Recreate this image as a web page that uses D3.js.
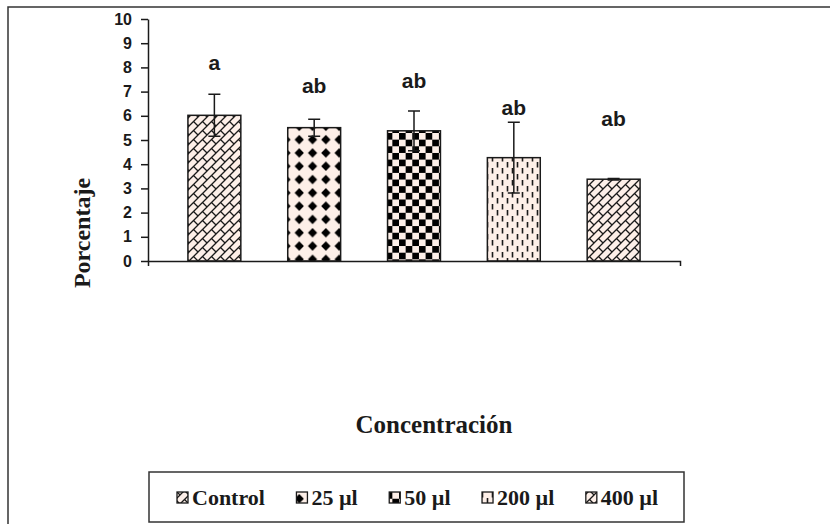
<!DOCTYPE html>
<html>
<head>
<meta charset="utf-8">
<script src="https://cdn.jsdelivr.net/npm/d3@7"></script>
<style>
  html, body { margin: 0; padding: 0; background: #fff; }
  svg { display: block; }
</style>
</head>
<body>
<svg id="chart" width="830" height="524"></svg>
<script>
// ---- data ----
const categories = ["Control", "25 µl", "50 µl", "200 µl", "400 µl"];
const means      = [6.02, 5.51, 5.38, 4.27, 3.38];
const errors     = [0.87, 0.35, 0.82, 1.46, 0.03];
const letters    = ["a", "ab", "ab", "ab", "ab"];
const letterPos  = [7.89, 6.94, 7.15, 6.03, 5.59];
const yTicks     = [0, 1, 2, 3, 4, 5, 6, 7, 8, 9, 10];
const patterns   = ["brick", "diamond", "checker", "dash", "brick"];
const yTitle = "Porcentaje";
const xTitle = "Concentración";

const svg = d3.select("#chart");
const ink = "#1a1a1a";
const bg = "#fdefe8";

// ---- patterns ----
const defs = svg.append("defs");
function addPattern(id, w, h, build) {
  const p = defs.append("pattern").attr("id", id)
    .attr("patternUnits", "userSpaceOnUse").attr("width", w).attr("height", h);
  p.append("rect").attr("width", w).attr("height", h).attr("fill", bg);
  build(p);
}
addPattern("brick", 9, 9, p => {
  p.append("path")
    .attr("d", "M-1,10L10,-1 M4.5,4.5L9,9 M-1,1L1,-1 M8,10L10,8")
    .attr("stroke", ink).attr("stroke-width", 1.3).attr("fill", "none");
});
addPattern("diamond", 13.3, 13.3, p => {
  p.append("path").attr("d", "M6.65,2L11.3,6.65L6.65,11.3L2,6.65Z").attr("fill", "#000");
});
addPattern("checker", 13.3, 13.3, p => {
  p.append("rect").attr("x", 0).attr("y", 0).attr("width", 6.65).attr("height", 6.65).attr("fill", "#000");
  p.append("rect").attr("x", 6.65).attr("y", 6.65).attr("width", 6.65).attr("height", 6.65).attr("fill", "#000");
});
addPattern("dash", 10, 12, p => {
  p.append("path").attr("d", "M2.5,0V5.5 M7.5,6V11.5")
    .attr("stroke", ink).attr("stroke-width", 1.6).attr("fill", "none");
});

// ---- frame ----
svg.append("path").attr("d", "M8,524V7H830").attr("fill", "none")
  .attr("stroke", "#333").attr("stroke-width", 1.5);

// ---- scales ----
const x = d3.scaleBand().domain(categories).range([148, 680])
  .paddingInner(0.47).paddingOuter(0.4);
const y = d3.scaleLinear().domain([0, 10]).range([261, 19]);

// ---- axes ----
const yAxis = svg.append("g").attr("transform", "translate(148,0)")
  .call(d3.axisLeft(y).tickValues(yTicks).tickSize(7).tickPadding(9).tickSizeOuter(0));
yAxis.selectAll("path, line").attr("stroke", ink).attr("stroke-width", 1.5);
yAxis.selectAll("text").attr("fill", ink)
  .style("font-family", "'Liberation Sans', Arial, sans-serif")
  .style("font-weight", "bold").style("font-size", "16px");

// ---- bars ----
const data = categories.map((c, i) => ({c, m: means[i], e: errors[i], l: letters[i], lp: letterPos[i], p: patterns[i]}));
svg.append("g").selectAll("rect").data(data).join("rect")
  .attr("x", d => x(d.c)).attr("width", x.bandwidth())
  .attr("y", d => y(d.m)).attr("height", d => y(0) - y(d.m))
  .attr("fill", d => `url(#${d.p})`).attr("stroke", ink).attr("stroke-width", 1.5);

// ---- error bars ----
const eg = svg.append("g").attr("stroke", ink).attr("stroke-width", 1.5).attr("fill", "none");
eg.selectAll("path").data(data).join("path")
  .attr("d", d => {
    const cx = x(d.c) + x.bandwidth() / 2;
    const t = y(d.m + d.e), b = y(d.m - d.e);
    return `M${cx},${t}V${b} M${cx - 6},${t}H${cx + 6} M${cx - 6},${b}H${cx + 6}`;
  });

// ---- x axis (drawn over bars) ----
const xAxis = svg.append("g").attr("transform", "translate(0,261)")
  .call(d3.axisBottom(x).tickValues([]).tickSizeOuter(5));
xAxis.selectAll("path").attr("stroke", ink).attr("stroke-width", 1.5);

// ---- letters ----
svg.append("g").selectAll("text").data(data).join("text")
  .attr("x", d => x(d.c) + x.bandwidth() / 2).attr("y", d => y(d.lp))
  .attr("text-anchor", "middle").attr("fill", ink)
  .style("font-family", "'Liberation Sans', Arial, sans-serif")
  .style("font-weight", "bold").style("font-size", "21px")
  .text(d => d.l);

// ---- titles ----
svg.append("text").attr("transform", "translate(90,233) rotate(-90)")
  .attr("text-anchor", "middle").attr("fill", ink)
  .style("font-family", "'Liberation Serif', 'Times New Roman', serif")
  .style("font-weight", "bold").style("font-size", "24px").text(yTitle);
svg.append("text").attr("x", 434).attr("y", 433)
  .attr("text-anchor", "middle").attr("fill", ink)
  .style("font-family", "'Liberation Serif', 'Times New Roman', serif")
  .style("font-weight", "bold").style("font-size", "25px").text(xTitle);

// ---- legend ----
svg.append("rect").attr("x", 149).attr("y", 472).attr("width", 535).attr("height", 50)
  .attr("fill", "#fff").attr("stroke", "#333").attr("stroke-width", 1.5);
const lg = svg.append("g");
let lx = 177;
data.forEach(d => {
  lg.append("rect").attr("x", lx).attr("y", 492).attr("width", 11).attr("height", 11)
    .attr("fill", `url(#${d.p})`).attr("stroke", ink).attr("stroke-width", 1.3);
  const t = lg.append("text").attr("x", lx + 15).attr("y", 505).attr("fill", ink)
    .style("font-family", "'Liberation Serif', 'Times New Roman', serif")
    .style("font-weight", "bold").style("font-size", "22px").text(d.c);
  lx += 15 + t.node().getComputedTextLength() + 31.5;
});
</script>
</body>
</html>
